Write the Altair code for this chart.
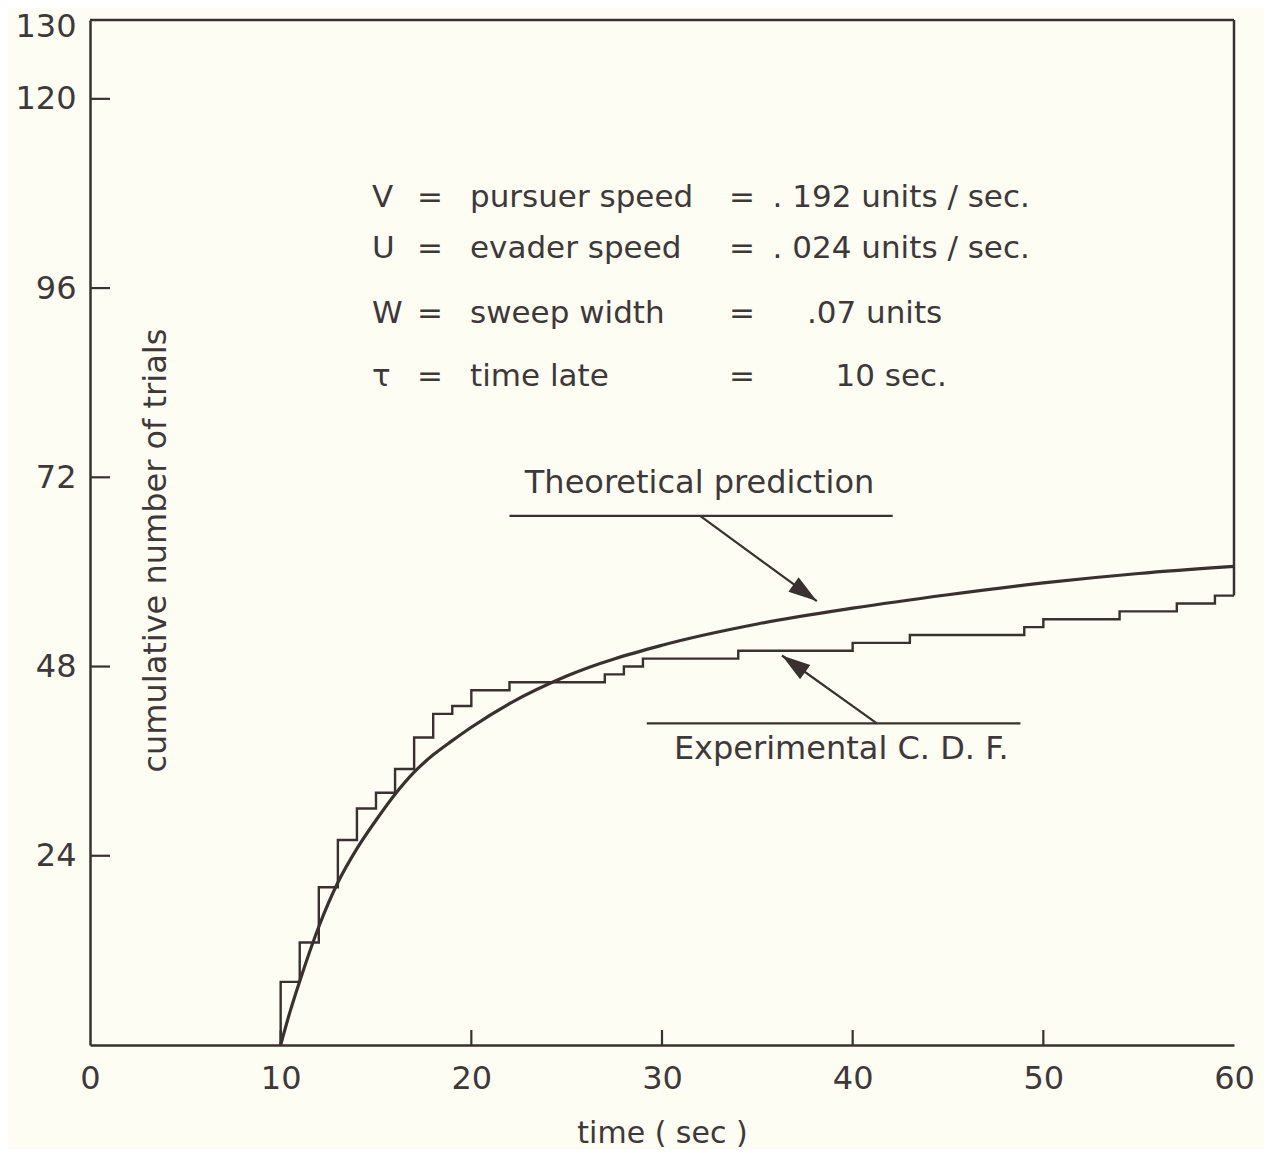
import altair as alt
import pandas as pd

# ---------------- data ----------------
# Experimental C.D.F. (step function)
step_t = [10, 10, 11, 12, 13, 14, 15, 16, 17, 18, 19, 20, 22, 27, 28, 29, 34, 40, 43, 49, 50, 54, 57, 59, 60]
step_n = [0, 8, 13, 20, 26, 30, 32, 35, 39, 42, 43, 45, 46, 47, 48, 49, 50, 51, 52, 53, 54, 55, 56, 57, 57]

# Theoretical prediction (smooth curve)
theo_t = [10, 10.5, 11, 12, 13, 14, 15, 16, 17, 18, 19, 20, 22, 25, 30, 35, 40, 45, 50, 55, 60]
theo_n = [0, 4.3, 8.1, 15.0, 20.6, 24.9, 28.5, 31.8, 34.6, 36.8, 38.6, 40.3, 43.3, 46.8, 50.7, 53.4, 55.4, 57.1, 58.6, 59.8, 60.7]

# axes
x_ticks = [0, 10, 20, 30, 40, 50, 60]
y_ticks = [24, 48, 72, 96, 120, 130]
inner_x_ticks = [10, 20, 30, 40, 50]
inner_y_ticks = [24, 48, 72, 96, 120]
x_domain = [0, 60]
y_domain = [0, 130]

# parameter block
par_sym = ["V", "U", "W", "τ"]
par_desc = ["pursuer speed", "evader speed", "sweep width", "time late"]
par_val = [". 192 units / sec.", ". 024 units / sec.", ".07 units", "10 sec."]
par_y = [107.4, 100.9, 92.7, 84.7]
par_val_x = [35.8, 35.8, 37.6, 39.1]
par_sym_x = 14.79
par_eq1_x = 17.83
par_desc_x = 19.93
par_eq2_x = 34.19

# callouts
call_text = ["Theoretical prediction", "Experimental C. D. F."]
call_x = [31.97, 39.4]
call_y = [71.3, 37.6]
under_x1 = [22.0, 29.2]
under_x2 = [42.1, 48.8]
under_y = [67.1, 40.8]
arrow_x1 = [32.0, 41.27]
arrow_y1 = [67.1, 40.8]
arrow_x2 = [38.12, 36.29]
arrow_y2 = [56.3, 49.4]
arrow_angle = [125.4, 305.6]

y_title = "cumulative number of trials"
y_title_pos = (3.45, 62.7)

# ---------------- styles ----------------
FONT = "DejaVu Sans"
LINE = "#3a3030"
TXT = "#3f3838"
BG = "#fdfdf4"
TICK_LEN_X = 1.9   # in y units (inner tick length on x axis)
TICK_LEN_Y = 1.05  # in x units (inner tick length on y axis)

xs = alt.Scale(domain=x_domain, nice=False, zero=False)
ys = alt.Scale(domain=y_domain, nice=False, zero=False)

x_axis = alt.Axis(values=x_ticks, ticks=False, grid=False, labelFontSize=32, labelFont=FONT,
                  labelColor=TXT, labelPadding=18, domainColor=LINE, domainWidth=2.5,
                  title="time ( sec )", titleFont=FONT, titleFontSize=30, titleFontWeight="normal",
                  titleColor=TXT, titleY=88, titleBaseline="middle", labelFlush=False, format="d")
y_axis = alt.Axis(values=y_ticks, ticks=False, grid=False, labelFontSize=32, labelFont=FONT,
                  labelColor=TXT, labelPadding=14, domainColor=LINE, domainWidth=2.5,
                  labelOffset=alt.condition("datum.value == 130", alt.value(6), alt.value(0)),
                  title=None, labelFlush=False, format="d")

X = alt.X("x:Q", scale=xs, axis=x_axis)
Y = alt.Y("y:Q", scale=ys, axis=y_axis)

# ---------------- layers ----------------
step_df = pd.DataFrame({"x": step_t, "y": step_n})
theo_df = pd.DataFrame({"x": theo_t, "y": theo_n})

step = alt.Chart(step_df).mark_line(interpolate="step-after", color=LINE, strokeWidth=2.4).encode(x=X, y=Y)
theo = alt.Chart(theo_df).mark_line(interpolate="monotone", color=LINE, strokeWidth=3.2).encode(x=X, y=Y)

# frame: top border and partial right border (right border starts at last step value)
frame_df = pd.DataFrame({
    "x": [x_domain[0], x_domain[1]],
    "x2": [x_domain[1], x_domain[1]],
    "y": [y_domain[1], step_n[-1]],
    "y2": [y_domain[1], y_domain[1]],
})
frame = alt.Chart(frame_df).mark_rule(color=LINE, strokeWidth=2.5).encode(
    x=X, x2="x2:Q", y=Y, y2="y2:Q")

# inner ticks
xt_df = pd.DataFrame({"x": inner_x_ticks, "y": [0] * len(inner_x_ticks),
                      "y2": [TICK_LEN_X] * len(inner_x_ticks)})
xt = alt.Chart(xt_df).mark_rule(color=LINE, strokeWidth=2.2).encode(x=X, y=Y, y2="y2:Q")
yt_df = pd.DataFrame({"y": inner_y_ticks, "x": [0] * len(inner_y_ticks),
                      "x2": [TICK_LEN_Y] * len(inner_y_ticks)})
yt = alt.Chart(yt_df).mark_rule(color=LINE, strokeWidth=2.2).encode(x=X, x2="x2:Q", y=Y)

# y title inside plot
yt_title_df = pd.DataFrame({"x": [y_title_pos[0]], "y": [y_title_pos[1]], "t": [y_title]})
ytitle = alt.Chart(yt_title_df).mark_text(angle=270, font=FONT, fontSize=32, color=TXT,
                                          align="center", baseline="middle").encode(x=X, y=Y, text="t:N")

# parameter block
n = len(par_sym)
sym_df = pd.DataFrame({"x": [par_sym_x] * n, "y": par_y, "t": par_sym})
eq1_df = pd.DataFrame({"x": [par_eq1_x] * n, "y": par_y, "t": ["="] * n})
desc_df = pd.DataFrame({"x": [par_desc_x] * n, "y": par_y, "t": par_desc})
eq2_df = pd.DataFrame({"x": [par_eq2_x] * n, "y": par_y, "t": ["="] * n})
val_df = pd.DataFrame({"x": par_val_x, "y": par_y, "t": par_val})

def txt(df, align):
    return alt.Chart(df).mark_text(font=FONT, fontSize=31, color=TXT, align=align,
                                   baseline="middle").encode(x=X, y=Y, text="t:N")

params = [txt(sym_df, "left"), txt(eq1_df, "center"), txt(desc_df, "left"),
          txt(eq2_df, "center"), txt(val_df, "left")]

# callouts
call_df = pd.DataFrame({"x": call_x, "y": call_y, "t": call_text})
calls = alt.Chart(call_df).mark_text(font=FONT, fontSize=32, color=TXT, align="center",
                                     baseline="middle").encode(x=X, y=Y, text="t:N")
under_df = pd.DataFrame({"x": under_x1, "x2": under_x2, "y": under_y})
under = alt.Chart(under_df).mark_rule(color=LINE, strokeWidth=2.2).encode(x=X, x2="x2:Q", y=Y)
arr_df = pd.DataFrame({"x": arrow_x1, "x2": arrow_x2, "y": arrow_y1, "y2": arrow_y2})
arr = alt.Chart(arr_df).mark_rule(color=LINE, strokeWidth=2.2).encode(x=X, x2="x2:Q", y=Y, y2="y2:Q")
head_df = pd.DataFrame({"x": arrow_x2, "y": arrow_y2, "a": arrow_angle})
heads = alt.Chart(head_df).mark_point(shape="M0,0L-0.4,1.3L0.4,1.3Z", filled=True, size=1936,
                                      color=LINE, opacity=1).encode(
    x=X, y=Y, angle=alt.Angle("a:Q", scale=None))

chart = alt.layer(frame, xt, yt, step, theo, ytitle, *params, calls, under, arr, heads).properties(
    width=1144, height=1025,
    autosize=alt.AutoSizeParams(type="none"),
    padding={"left": 82, "top": 12, "right": 30, "bottom": 104},
    background=BG,
).configure_view(stroke=None)

chart.save("out.html", embed_options={"renderer": "svg", "actions": False})
